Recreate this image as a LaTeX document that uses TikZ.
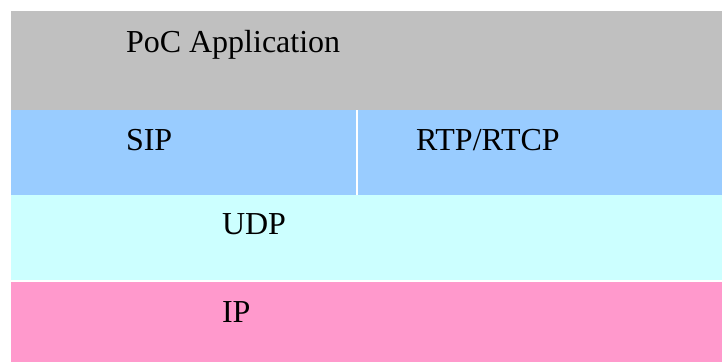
\documentclass[tikz,border=0pt]{standalone}
\usepackage{fontspec}
\setmainfont{Liberation Serif}
\definecolor{appgray}{HTML}{C0C0C0}
\definecolor{sipblue}{HTML}{99CCFF}
\definecolor{udpcyan}{HTML}{CCFFFF}
\definecolor{ippink}{HTML}{FF99CC}
\tikzset{
  layer/.style={anchor=north west, inner sep=0pt, outer sep=0pt, draw=none},
  lbl/.style={anchor=base west, inner sep=0pt, outer sep=0pt, font=\fontsize{32pt}{36pt}\selectfont, text=black}
}
\begin{document}
\begin{tikzpicture}[x=1pt,y=-1pt]
\fill[white] (0,0) rectangle (722,362);
\useasboundingbox (0,0) rectangle (722,362);
\node[layer, fill=appgray, minimum width=711pt, minimum height=99pt] (app) at (11,11) {};
\node[layer, fill=sipblue, minimum width=345pt, minimum height=85pt] (sip) at (11,110) {};
\node[layer, fill=sipblue, minimum width=364pt, minimum height=85pt] (rtp) at (358,110) {};
\node[layer, fill=udpcyan, minimum width=711pt, minimum height=85pt] (udp) at (11,195) {};
\node[layer, fill=ippink, minimum width=711pt, minimum height=80pt] (ip) at (11,282) {};
\node[lbl] (tapp) at (126,52) {PoC Application};
\node[lbl] (tsip) at (126,150) {SIP};
\node[lbl] (trtp) at (416,150) {RTP/RTCP};
\node[lbl] (tudp) at (222,234) {UDP};
\node[lbl] (tip) at (222,322) {IP};
\end{tikzpicture}
\end{document}
